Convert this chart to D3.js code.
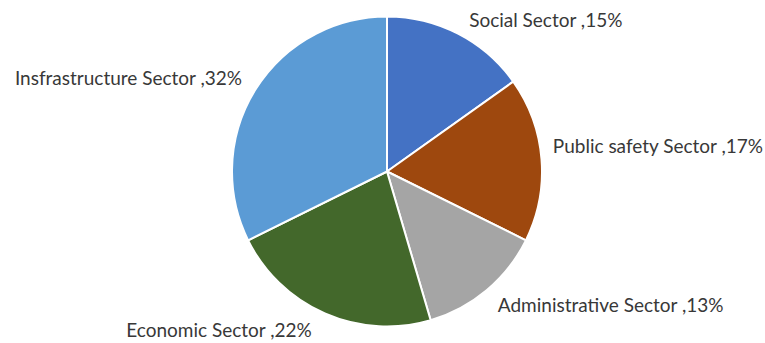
<!DOCTYPE html>
<html>
<head>
<meta charset="utf-8">
<script src="https://cdn.jsdelivr.net/npm/d3@7"></script>
<style>
  html, body { margin: 0; padding: 0; background: #fff; }
  svg { display: block; }
  text { font-family: Lato, "Open Sans", sans-serif; fill: #383838; }
</style>
</head>
<body>
<svg id="chart" width="765" height="343"></svg>
<script>
// Share of projects by sector (percent)
const categories = ["Social Sector", "Public safety Sector", "Administrative Sector", "Economic Sector", "Insfrastructure Sector"];
const values = [15, 17, 13, 22, 32];
const colors = ["#4472C4", "#9E480E", "#A5A5A5", "#43682B", "#5B9BD5"];

const W = 765, H = 343;
const cx = 387, cy = 171.5, R = 155;

// Label anchors, expressed relative to the pie centre in units of the radius
const labelLayout = {
  "Social Sector":          { fx: 0.53,  fy: -0.93, anchor: "start" },
  "Public safety Sector":   { fx: 1.07,  fy: -0.12, anchor: "start" },
  "Administrative Sector":  { fx: 0.715, fy: 0.905, anchor: "start" },
  "Economic Sector":        { fx: -0.485, fy: 1.07, anchor: "end" },
  "Insfrastructure Sector": { fx: -0.935, fy: -0.56, anchor: "end" }
};

const data = categories.map((c, i) => ({ name: c, value: values[i], color: colors[i] }));

const svg = d3.select("#chart");
const g = svg.append("g").attr("transform", `translate(${cx},${cy})`);

const pie = d3.pie().value(d => d.value).sort(null);
const arc = d3.arc().innerRadius(0).outerRadius(R);

g.selectAll("path.slice")
  .data(pie(data))
  .join("path")
  .attr("class", "slice")
  .attr("d", arc)
  .attr("fill", d => d.data.color)
  .attr("stroke", "#ffffff")
  .attr("stroke-width", 2)
  .attr("stroke-linejoin", "round");

g.selectAll("text.label")
  .data(data)
  .join("text")
  .attr("class", "label")
  .attr("x", d => labelLayout[d.name].fx * R)
  .attr("y", d => labelLayout[d.name].fy * R)
  .attr("text-anchor", d => labelLayout[d.name].anchor)
  .attr("font-size", 19)
  .text(d => `${d.name} ,${d.value}%`);
</script>
</body>
</html>
